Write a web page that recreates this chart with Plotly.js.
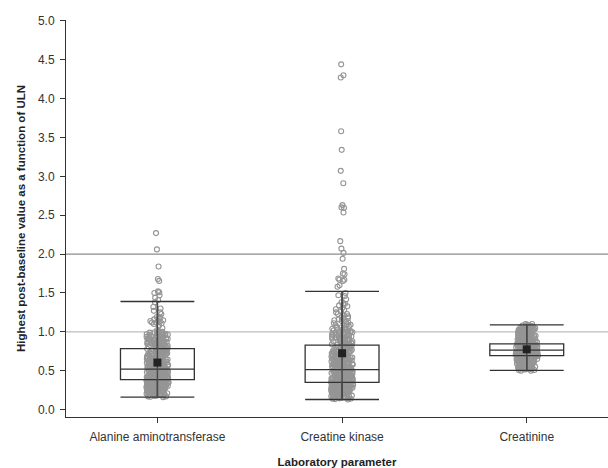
<!DOCTYPE html>
<html><head><meta charset="utf-8">
<script src="https://cdn.plot.ly/plotly-3.0.1.min.js"></script>
<style>html,body{margin:0;padding:0;background:#fff}</style>
</head><body><div id="chart" style="width:608px;height:468px"></div>
<script>
const categories = ['Alanine aminotransferase', 'Creatine kinase', 'Creatinine'];
const lowerWhisker = [0.16, 0.13, 0.505];
const q1Values = [0.385, 0.35, 0.695];
const medianValues = [0.52, 0.515, 0.765];
const q3Values = [0.785, 0.83, 0.845];
const upperWhisker = [1.39, 1.52, 1.09];
const meanValues = [0.605, 0.725, 0.775];

const altValues = [
0.16,0.17,0.17,0.18,0.18,0.19,0.19,0.20,0.20,0.21,0.21,0.22,0.22,0.23,0.23,0.24,0.24,0.25,0.25,0.25,
0.26,0.26,0.27,0.27,0.27,0.28,0.28,0.28,0.29,0.29,0.29,0.30,0.30,0.30,0.31,0.31,0.31,0.32,0.32,0.32,
0.33,0.33,0.33,0.34,0.34,0.34,0.35,0.35,0.35,0.36,0.36,0.36,0.37,0.37,0.37,0.38,0.38,
0.39,0.39,0.39,0.40,0.40,0.40,0.41,0.41,0.41,0.42,0.42,0.42,0.43,0.43,0.43,0.44,0.44,0.44,0.45,0.45,
0.45,0.46,0.46,0.46,0.47,0.47,0.47,0.48,0.48,0.48,0.49,0.49,0.49,0.50,0.50,0.50,0.51,0.51,0.51,0.52,
0.52,0.52,0.40,0.42,0.44,0.45,0.46,0.47,0.48,0.49,0.50,0.51,0.43,0.41,0.39,0.44,0.46,
0.53,0.53,0.54,0.54,0.55,0.55,0.56,0.56,0.57,0.57,0.58,0.58,0.59,0.59,0.60,0.60,0.61,0.61,0.62,0.62,
0.63,0.63,0.64,0.64,0.65,0.65,0.66,0.66,0.67,0.67,0.68,0.68,0.69,0.69,0.70,0.70,0.71,0.71,0.72,0.72,
0.73,0.73,0.74,0.74,0.75,0.75,0.76,0.76,0.77,0.77,0.78,0.78,0.55,0.60,0.65,0.70,0.75,
0.79,0.80,0.80,0.81,0.82,0.82,0.83,0.84,0.85,0.85,0.86,0.87,0.88,0.88,0.89,0.90,0.90,0.91,0.92,0.93,
0.93,0.94,0.95,0.96,0.97,0.98,0.99,1.00,0.81,0.84,0.87,0.91,0.94,0.97,1.00,
0.165,0.175,0.185,0.195,0.205,0.215,0.225,0.235,0.245,0.255,0.265,0.275,0.285,0.295,0.305,0.315,0.325,
0.335,0.345,0.355,0.365,0.375,0.385,0.395,0.405,0.415,0.425,0.435,0.445,0.455,0.465,0.475,0.485,0.495,
0.505,0.515,0.525,0.535,0.545,0.555,0.565,0.575,0.585,0.595,0.605,0.615,0.625,0.635,0.645,0.655,0.665,
0.675,0.685,0.695,0.705,0.715,0.725,0.735,0.745,0.755,0.765,0.775,0.785,0.795,0.805,0.815,0.825,0.835,
0.845,0.855,0.865,0.875,0.885,0.895,0.905,0.915,0.925,0.935,0.945,0.955,0.965,0.975,0.985,0.995,
0.22,0.26,0.30,0.34,0.38,0.42,0.46,0.50,0.54,0.58,0.62,0.66,0.70,0.74,0.78,0.82,0.86,0.90,
0.24,0.28,0.32,0.36,0.40,0.44,0.48,0.52,0.56,0.60,0.64,0.68,0.72,0.76,0.80,0.84,0.88,0.92,0.96,
1.02,1.05,1.08,1.10,1.11,1.12,1.12,1.13,1.14,1.14,1.15,1.16,1.17,1.18,1.19,1.23,1.25,1.27,1.30,1.32,1.38,
1.41,1.44,1.47,1.50,1.51,1.52,1.655,1.68,1.84,2.06,2.27
];

const ckValues = [
0.13,0.14,0.14,0.15,0.15,0.16,0.16,0.17,0.17,0.18,0.18,0.19,0.19,0.20,0.20,0.21,0.21,0.22,0.22,0.22,
0.23,0.23,0.24,0.24,0.24,0.25,0.25,0.26,0.26,0.26,0.27,0.27,0.28,0.28,0.28,0.29,0.29,0.30,0.30,0.30,
0.31,0.31,0.32,0.32,0.32,0.33,0.33,0.33,0.34,0.34,0.34,0.35,0.35,0.29,0.27,0.25,0.23,
0.36,0.36,0.36,0.37,0.37,0.37,0.38,0.38,0.38,0.39,0.39,0.39,0.40,0.40,0.40,0.41,0.41,0.41,0.42,0.42,
0.42,0.43,0.43,0.43,0.44,0.44,0.44,0.45,0.45,0.45,0.46,0.46,0.46,0.47,0.47,0.47,0.48,0.48,0.48,0.49,
0.49,0.49,0.50,0.50,0.50,0.51,0.51,0.51,0.37,0.39,0.41,0.43,0.45,0.47,0.49,0.38,0.42,
0.52,0.53,0.53,0.54,0.55,0.55,0.56,0.57,0.57,0.58,0.59,0.59,0.60,0.61,0.61,0.62,0.63,0.63,0.64,0.65,
0.65,0.66,0.67,0.67,0.68,0.69,0.69,0.70,0.71,0.71,0.72,0.73,0.73,0.74,0.75,0.75,0.76,0.77,0.77,0.78,
0.79,0.79,0.80,0.81,0.81,0.82,0.82,0.54,0.58,0.62,0.66,0.70,0.74,0.78,0.56,0.64,0.72,
0.83,0.84,0.85,0.86,0.87,0.88,0.89,0.90,0.91,0.92,0.93,0.94,0.95,0.96,0.97,0.98,0.99,1.00,0.85,0.88,
0.91,0.94,0.97,1.00,0.90,
0.135,0.145,0.155,0.165,0.175,0.185,0.195,0.205,0.215,0.225,0.235,0.245,0.255,0.265,0.275,0.285,0.295,
0.305,0.315,0.325,0.335,0.345,0.355,0.365,0.375,0.385,0.395,0.405,0.415,0.425,0.435,0.445,0.455,0.465,
0.475,0.485,0.495,0.505,0.515,0.525,0.535,0.545,0.555,0.565,0.575,0.585,0.595,0.605,0.615,0.625,0.635,
0.645,0.655,0.665,0.675,0.685,0.695,0.705,0.715,0.725,0.735,0.745,0.755,0.765,0.775,0.785,0.795,0.805,
0.815,0.825,0.835,0.845,0.855,0.865,0.875,0.885,0.895,0.905,0.915,0.925,0.935,0.945,0.955,0.965,0.975,
0.985,0.995,
0.16,0.20,0.24,0.28,0.32,0.36,0.40,0.44,0.48,0.52,0.56,0.60,0.64,0.68,0.72,0.76,0.80,0.84,0.88,0.92,0.96,
1.01,1.02,1.03,1.04,1.05,1.06,1.07,1.08,1.09,1.10,1.11,1.13,1.15,1.17,1.19,1.21,1.23,1.23,1.265,1.29,
1.31,1.34,1.355,1.38,1.42,1.46,1.47,1.50,
1.005,1.025,1.045,1.065,1.085,1.12,1.14,1.16,1.18,1.20,1.25,1.28,1.33,1.36,
1.58,1.60,1.655,1.67,1.67,1.686,1.74,1.75,1.81,1.94,2.015,2.07,2.166,2.535,2.595,2.60,2.63,2.91,3.07,
3.34,3.58,4.27,4.30,4.44
];

const creatinineValues = [
0.50,0.51,0.51,0.52,0.52,0.53,0.53,0.54,0.54,0.55,0.55,0.56,0.56,0.57,0.57,0.58,0.58,0.59,0.59,0.60,
0.60,0.60,0.61,0.61,0.61,0.62,0.62,0.62,0.63,0.63,0.63,0.64,0.64,0.64,0.65,0.65,0.65,0.66,0.66,0.66,
0.67,0.67,0.67,0.68,0.68,0.68,0.69,0.69,0.69,0.50,
0.70,0.70,0.70,0.70,0.71,0.71,0.71,0.71,0.72,0.72,0.72,0.72,0.72,0.73,0.73,0.73,0.73,0.73,0.74,0.74,
0.74,0.74,0.74,0.75,0.75,0.75,0.75,0.75,0.76,0.76,0.76,0.76,0.76,0.70,0.71,0.72,0.73,0.74,0.75,0.76,
0.705,0.715,0.725,0.735,0.745,0.755,0.765,0.71,0.73,0.75,
0.77,0.77,0.77,0.77,0.78,0.78,0.78,0.78,0.79,0.79,0.79,0.79,0.80,0.80,0.80,0.80,0.81,0.81,0.81,0.81,
0.82,0.82,0.82,0.82,0.83,0.83,0.83,0.83,0.84,0.84,0.84,0.84,0.775,0.785,0.795,0.805,0.815,0.825,0.835,0.845,
0.77,0.79,0.81,0.83,0.78,0.80,0.82,0.84,0.80,0.81,
0.85,0.85,0.86,0.86,0.87,0.87,0.88,0.88,0.89,0.89,0.90,0.90,0.91,0.91,0.92,0.92,0.93,0.93,0.94,0.94,
0.95,0.95,0.96,0.96,0.97,0.97,0.98,0.98,0.99,0.99,1.00,1.00,1.01,1.01,1.02,1.02,1.03,1.03,1.04,1.04,
1.05,1.05,1.06,1.07,1.08,1.09,1.10,1.10,0.88,0.92,
0.515,0.525,0.535,0.545,0.555,0.565,0.575,0.585,0.595,0.605,0.615,0.625,0.635,0.645,0.655,0.665,0.675,
0.685,0.695,0.855,0.865,0.875,0.885,0.895,0.905,0.915,0.925,0.935,0.945,0.955,0.965,0.975,0.985,0.995,
1.005,1.015,1.025,1.035,1.045,1.055,1.065,1.075,1.085,
0.52,0.56,0.60,0.64,0.68,0.86,0.90,0.94,0.98,1.02,1.06
];

const pointSeries = [altValues, ckValues, creatinineValues];
const yTickValues = [0, 0.5, 1, 1.5, 2, 2.5, 3, 3.5, 4, 4.5, 5];
const yTickLabels = ['0.0','0.5','1.0','1.5','2.0','2.5','3.0','3.5','4.0','4.5','5.0'];
const referenceLines = [1, 2];
const referenceColors = ['#bdbdbd', '#8c8c8c'];

const traces = [];
pointSeries.forEach((vals, i) => {
  traces.push({
    type: 'box', y: vals, x0: categories[i], name: categories[i],
    boxpoints: 'all', jitter: 0.3, pointpos: 0, width: 0.4,
    line: {color: 'rgba(0,0,0,0)', width: 0}, fillcolor: 'rgba(0,0,0,0)',
    marker: {symbol: 'circle-open', size: 5, color: '#959595', line: {width: 1.1}},
    hoverinfo: 'skip', showlegend: false
  });
});
traces.push({
  type: 'box', x: categories,
  q1: q1Values, median: medianValues, q3: q3Values,
  lowerfence: lowerWhisker, upperfence: upperWhisker,
  width: 0.4, whiskerwidth: 1, boxpoints: false,
  line: {color: '#333333', width: 1.3}, fillcolor: 'rgba(0,0,0,0)',
  showlegend: false
});
const wx = [], wy = [];
categories.forEach((c, i) => { wx.push(c, c, null); wy.push(lowerWhisker[i], upperWhisker[i], null); });
traces.push({type: 'scatter', mode: 'lines', x: wx, y: wy, line: {color: '#4a4a4a', width: 1.5}, showlegend: false, hoverinfo: 'skip'});
traces.push({type: 'scatter', mode: 'markers', x: categories, y: meanValues,
  marker: {symbol: 'square', size: 8, color: '#222222'}, showlegend: false});

const shapes = referenceLines.map((v, i) => ({
  type: 'line', xref: 'paper', x0: 0, x1: 1, yref: 'y', y0: v, y1: v,
  line: {color: referenceColors[i], width: 1.3}, layer: 'below'
}));

const layout = {
  width: 608, height: 468,
  margin: {l: 66, r: 0, t: 20, b: 51},
  paper_bgcolor: '#fff', plot_bgcolor: '#fff',
  font: {family: 'Liberation Sans, Arial, sans-serif', color: '#333', size: 12},
  boxmode: 'overlay', showlegend: false, shapes: shapes,
  xaxis: {
    type: 'category', range: [-0.495, 2.44], showgrid: false, zeroline: false,
    showline: true, linecolor: '#333', linewidth: 1,
    ticks: 'outside', ticklen: 5, tickcolor: '#333', ticklabelstandoff: 4,
    tickfont: {size: 12, color: '#333'},
    title: {text: '<b>Laboratory parameter</b>', font: {size: 11.5, color: '#222'}, standoff: 16}
  },
  yaxis: {
    range: [-0.095, 5.01], showgrid: false, zeroline: false,
    showline: true, linecolor: '#333', linewidth: 1,
    ticks: 'outside', ticklen: 5, tickcolor: '#333', ticklabelstandoff: 3,
    tickvals: yTickValues, ticktext: yTickLabels,
    tickfont: {size: 12, color: '#333'},
    title: {text: '<b>Highest post-baseline value as a function of ULN</b>', font: {size: 11.5, color: '#222'}, standoff: 9}
  }
};

Plotly.newPlot('chart', traces, layout, {staticPlot: true, displayModeBar: false});
</script></body></html>
